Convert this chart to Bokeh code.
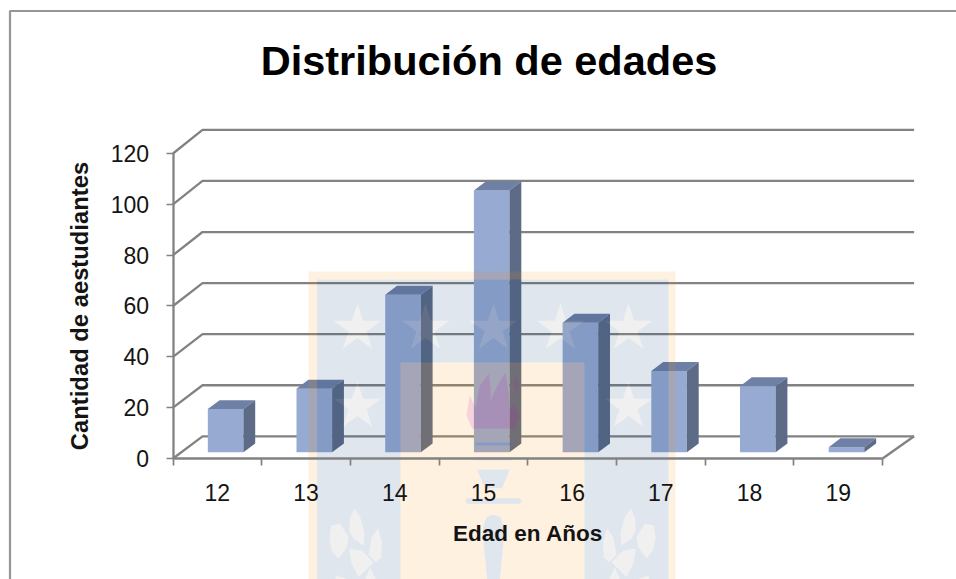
import math
from bokeh.embed import file_html
from bokeh.resources import INLINE
from bokeh.plotting import figure
from bokeh.models import LinearAxis, FixedTicker, Range1d, Label

# ---- data ----
edades = ["12", "13", "14", "15", "16", "17", "18", "19"]
cantidad = [17, 25, 62, 103, 51, 32, 26, 2]
y_ticks = [0, 20, 40, 60, 80, 100, 120]
titulo = "Distribución de edades"
eje_x = "Edad en Años"
eje_y = "Cantidad de aestudiantes"

# ---- layout (page pixels) ----
W, H = 956, 579
X0, UX = 172.5, 88.7     # page x of category 0, px per category
Y0, UY = 458.0, 2.5417   # page y of value 0, px per unit
FONT = "Liberation Sans"

def px(x):
    return (x - X0) / UX

def py(y):
    return (Y0 - y) / UY

DX, DY = 29.5 / UX, 22.2 / UY    # floor depth in data units
DX_R = 31.5 / UX                 # depth at the right end
BACK = 1.0046                    # back wall is drawn a touch taller
BAR_W = 35.6 / UX
F0, F1 = 0.28, 0.68              # bar depth span, in fractions of the floor depth

p = figure(width=W, height=H, output_backend="svg", toolbar_location=None,
           x_range=Range1d(px(0), px(W)), y_range=Range1d(py(H), py(0)),
           x_axis_type=None, y_axis_type=None,
           min_border_left=0, min_border_right=0, min_border_top=0, min_border_bottom=0,
           outline_line_color=None, background_fill_color="white", border_fill_color="white")
p.grid.visible = False

GRID = "#828282"
LW = 2.3
n = len(edades)
# chart border
p.multi_line([[px(9.5), px(9.5), px(W)]], [[py(H), py(10.5), py(10.5)]],
             line_color="#969696", line_width=2.2)
# gridlines on the back wall and side wall
xs, ys = [], []
for t in y_ticks:
    xs.append([0, DX, n + DX_R])
    ys.append([t, t * BACK + DY, t * BACK + DY])
p.multi_line(xs, ys, line_color=GRID, line_width=LW)
# floor right edge
p.multi_line([[n, n + DX_R]], [[0, DY]], line_color=GRID, line_width=LW)

# bars
lefts = [i + 0.5 - BAR_W / 2 + DX * F0 for i in range(n)]
rights = [l + BAR_W for l in lefts]
base = DY * F0
tops = [base + c for c in cantidad]
ddx, ddy = DX * (F1 - F0), DY * (F1 - F0)
p.quad(left=lefts, right=rights, bottom=base, top=tops, fill_color="#97AAD2", line_color=None)
p.patches([[l, r, r + ddx, l + ddx] for l, r in zip(lefts, rights)],
          [[t, t, t + ddy, t + ddy] for t in tops],
          fill_color="#6E80A5", line_color=None)
p.patches([[r, r + ddx, r + ddx, r] for r in rights],
          [[base, base + ddy, t + ddy, t] for t in tops],
          fill_color="#5D6B87", line_color=None)

# ---- faded crest behind the plot (page-pixel outlines) ----
def ring(pts):
    return [px(a) for a, _ in pts], [py(b) for _, b in pts]

def rect(a, b, c, d):
    return [(a, b), (c, b), (c, d), (a, d)]

def star(cx, cy, R=25):
    out = []
    for k in range(10):
        r = R if k % 2 == 0 else R * 0.38
        ang = -math.pi / 2 + k * math.pi / 5
        out.append((cx + r * math.cos(ang), cy + r * math.sin(ang)))
    return out

def crop(ox, oy, pts):
    return [(ox + a / 3, oy + b / 3) for a, b in pts]

def mirror(pts):
    return [(984 - a, b) for a, b in pts]

BOT = H
stars = [star(c, 328) for c in (357, 425, 493, 560, 628)] + [star(357, 406), star(628, 406)]
leaf_pts = [
    [(108, 38), (125, 65), (138, 110), (135, 150), (105, 130), (92, 105), (95, 65)],
    [(38, 90), (65, 85), (90, 125), (85, 155), (60, 190), (40, 165), (33, 130)],
    [(178, 98), (190, 135), (188, 185), (172, 200), (150, 178), (160, 125)],
    [(92, 160), (130, 165), (165, 200), (140, 225), (120, 245), (100, 205)],
    [(155, 215), (172, 252), (140, 252)],
    [(55, 240), (90, 252), (50, 252)],
]
leaves = [crop(318, 495, l) for l in leaf_pts]
leaves = leaves + [mirror(l) for l in leaves]
C = (450, 455)
cup = crop(*C, [(80, 42), (178, 42), (155, 98), (103, 98)])
guard = crop(*C, [(50, 128), (208, 128), (215, 136), (208, 145), (50, 145), (42, 136)])
blade = crop(*C, [(128, 177), (150, 185), (160, 215), (158, 270), (148, 372), (110, 372),
                  (100, 270), (98, 215), (108, 185)])
line1 = rect(475, 442, 510, 445)
line2 = crop(*C, [(72, 5), (185, 5), (190, 10), (185, 15), (72, 15), (65, 10)])
emblem = [cup, guard, blade, line1, line2]

def poly(outer, holes=()):
    rx, ry = ring(outer)
    hx, hy = zip(*[ring(h) for h in holes]) if holes else ((), ())
    return [rx] + list(hx), [ry] + list(hy)

SH = rect(400, 362, 584, BOT)
NV = rect(316.5, 279, 668, BOT)

# navy field: an L-shaped ring around the shield, with stars and leaves cut out
field = [(316.5, 279), (668, 279), (668, BOT), (584, BOT), (584, 362), (400, 362), (400, BOT), (316.5, BOT)]
fx, fy = poly(field, stars + leaves)
polys_x, polys_y = [fx], [fy]
for e in emblem:
    ex, ey = poly(e)
    polys_x.append(ex)
    polys_y.append(ey)
p.multi_polygons([polys_x], [polys_y], fill_color="#003270", fill_alpha=0.12, line_color=None)

# cut-out shapes keep a very light veil
sx, sy = [], []
for s in stars + leaves:
    a, b = poly(s)
    sx.append(a)
    sy.append(b)
p.multi_polygons([sx], [sy], fill_color="#808080", fill_alpha=0.12, line_color=None)

# orange frame and shield
ox, oy = poly([(308, 271), (675, 271), (675, BOT), (308, BOT)], [NV])
shx, shy = poly(SH, emblem)
p.multi_polygons([[ox, shx]], [[oy, shy]], fill_color="#FF8C00", fill_alpha=0.125, line_color=None)

# flame
flame = crop(440, 350, [(95, 235), (78, 195), (88, 135), (105, 170), (118, 105), (145, 70), (150, 110), (150, 150),
                        (168, 110), (195, 65), (205, 130), (207, 180), (222, 160), (237, 200), (222, 235)])
flame2 = crop(440, 350, [(222, 72), (236, 100), (224, 138)])
a1, b1 = poly(flame)
a2, b2 = poly(flame2)
p.multi_polygons([[a1, a2]], [[b1, b2]], fill_color="#BE00BE", fill_alpha=0.13, line_color=None)

# ---- axes ----
yax = LinearAxis(fixed_location=0, bounds=(0, 120), ticker=FixedTicker(ticks=y_ticks),
                 axis_line_color=GRID, axis_line_width=LW,
                 major_tick_line_color=GRID, major_tick_line_width=1.7, major_tick_out=7, major_tick_in=0,
                 minor_tick_line_color=None,
                 major_label_text_font=FONT, major_label_text_font_size="23px",
                 major_label_text_color="#141414", major_label_standoff=17,
                 axis_label=eje_y, axis_label_text_font=FONT, axis_label_text_font_style="bold",
                 axis_label_text_font_size="23.8px", axis_label_text_color="#141414",
                 axis_label_standoff=15)
p.add_layout(yax, "left")

xax = LinearAxis(fixed_location=0, bounds=(0, n),
                 ticker=FixedTicker(ticks=[i + 0.5 for i in range(n)], minor_ticks=list(range(n + 1))),
                 major_label_overrides={i + 0.5: e for i, e in enumerate(edades)},
                 axis_line_color=GRID, axis_line_width=LW,
                 major_tick_line_color=None, major_tick_out=0, major_tick_in=0,
                 minor_tick_line_color=GRID, minor_tick_line_width=1.7, minor_tick_out=7, minor_tick_in=0,
                 major_label_text_font=FONT, major_label_text_font_size="23px",
                 major_label_text_color="#141414", major_label_standoff=18,
                 axis_label=eje_x, axis_label_text_font=FONT, axis_label_text_font_style="bold",
                 axis_label_text_font_size="22.5px", axis_label_text_color="#141414",
                 axis_label_standoff=17)
p.add_layout(xax, "below")

p.add_layout(Label(x=px(488.5), y=py(59.5), text=titulo, text_align="center", text_baseline="middle",
                   text_font=FONT, text_font_style="bold", text_font_size="41.5px", text_color="#000000"))

open("out.html", "w").write(file_html(p, INLINE))
